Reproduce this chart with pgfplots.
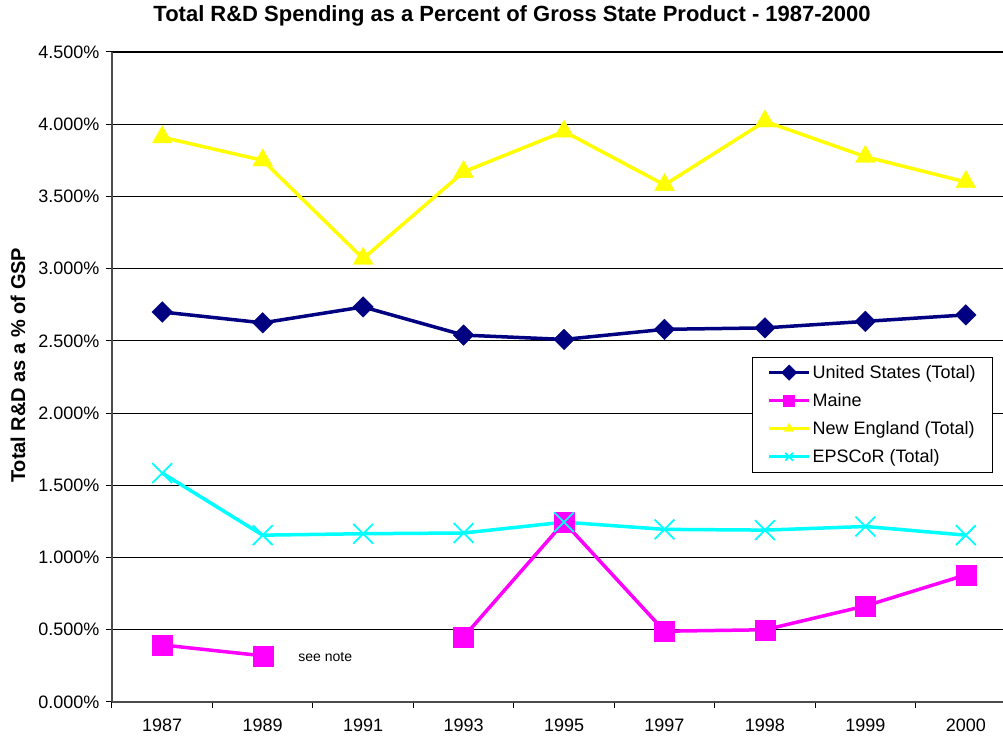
\documentclass[border=0pt]{standalone}
\usepackage{pgfplots}
\pgfplotsset{compat=1.18}
\usepackage{fontspec}
\setmainfont{Liberation Sans}
\definecolor{usblue}{RGB}{0,0,128}
\definecolor{mainem}{RGB}{255,0,255}
\definecolor{neyel}{RGB}{255,255,0}
\definecolor{epscyan}{RGB}{0,255,255}
\begin{document}
\begin{tikzpicture}
\begin{axis}[
  scale only axis,
  width=891pt, height=650pt,
  xmin=-0.5, xmax=8.37,
  ymin=0, ymax=4.5,
  axis lines*=left,
  axis line style={black!70, line width=2pt},
  xtick={0,...,8},
  xticklabels={1987,1989,1991,1993,1995,1997,1998,1999,2000},
  major x tick style={draw=none},
  minor xtick={-0.5,0.5,...,7.5},
  minor x tick style={black, line width=1pt},
  minor tick length=6pt,
  ytick={0,0.5,...,4.5},
  major tick length=6pt,
  tick align=outside,
  y tick style={black, line width=1pt},
  ymajorgrids,
  grid style={black, line width=1.1pt},
  yticklabel={\pgfmathprintnumber[fixed,fixed zerofill,precision=3]{\tick}\%},
  /pgf/number format/assume math mode=true,
  ticklabel style={font=\fontsize{18}{21}\selectfont},
  xticklabel style={yshift=-7pt},
  yticklabel style={xshift=-3pt},
  ylabel={\bfseries Total R\&D as a \% of GSP},
  ylabel style={font=\fontsize{20}{24}\selectfont, at={(axis description cs:-0.1055,0.518)}, anchor=center},
  title={\bfseries Total R\&D Spending as a Percent of Gross State Product - 1987-2000},
  title style={font=\fontsize{22}{26}\selectfont, at={(axis description cs:0.449,1)}, anchor=base, yshift=24pt},
  legend style={at={(rel axis cs:0.989,0.531)}, anchor=north east, draw=black, line width=1pt,
    font=\fontsize{18}{21}\selectfont, row sep=9.5pt, inner xsep=15pt, inner ysep=6pt},
  legend cell align=left,
  legend image code/.code={\draw[mark repeat=2,mark phase=2,#1] plot coordinates {(0pt,0pt)(20pt,0pt)(40pt,0pt)};},
  legend image post style={mark size=5.5pt, line width=3pt},
  unbounded coords=jump,
  clip=false,
]
\addplot[usblue, line width=3.5pt, mark=square*, mark size=7.3pt, mark options={solid, rotate=45, line width=0.3pt}]
coordinates {(0,2.70)(1,2.625)(2,2.735)(3,2.54)(4,2.51)(5,2.58)(6,2.59)(7,2.635)(8,2.68)};
\addlegendentry{United States (Total)}
\addplot[mainem, line width=3.5pt, mark=square*, mark size=10pt, mark options={solid, line width=0.3pt}]
coordinates {(0,0.395)(1,0.32)(2,nan)(3,0.45)(4,1.245)(5,0.49)(6,0.50)(7,0.665)(8,0.88)};
\addlegendentry{Maine}
\addplot[neyel, line width=3.5pt, mark=triangle*, mark size=11.5pt, mark options={solid, line width=0.3pt}]
coordinates {(0,3.91)(1,3.75)(2,3.07)(3,3.67)(4,3.95)(5,3.58)(6,4.02)(7,3.775)(8,3.60)};
\addlegendentry{New England (Total)}
\addplot[epscyan, line width=3.5pt, mark=x, mark size=14pt, mark options={solid, line width=1.8pt}]
coordinates {(0,1.585)(1,1.155)(2,1.165)(3,1.17)(4,1.245)(5,1.195)(6,1.19)(7,1.215)(8,1.155)};
\addlegendentry{EPSCoR (Total)}
\node[font=\fontsize{14}{16}\selectfont, anchor=base west] at (axis cs:1.32,0.28) {see note};
\end{axis}
\pgfresetboundingbox
\path (current axis.south west) ++(-112pt,-34pt) coordinate (bbsw);
\path (current axis.north east) ++(0pt,52pt) coordinate (bbne);
\useasboundingbox (bbsw) rectangle (bbne);
\end{tikzpicture}
\end{document}
